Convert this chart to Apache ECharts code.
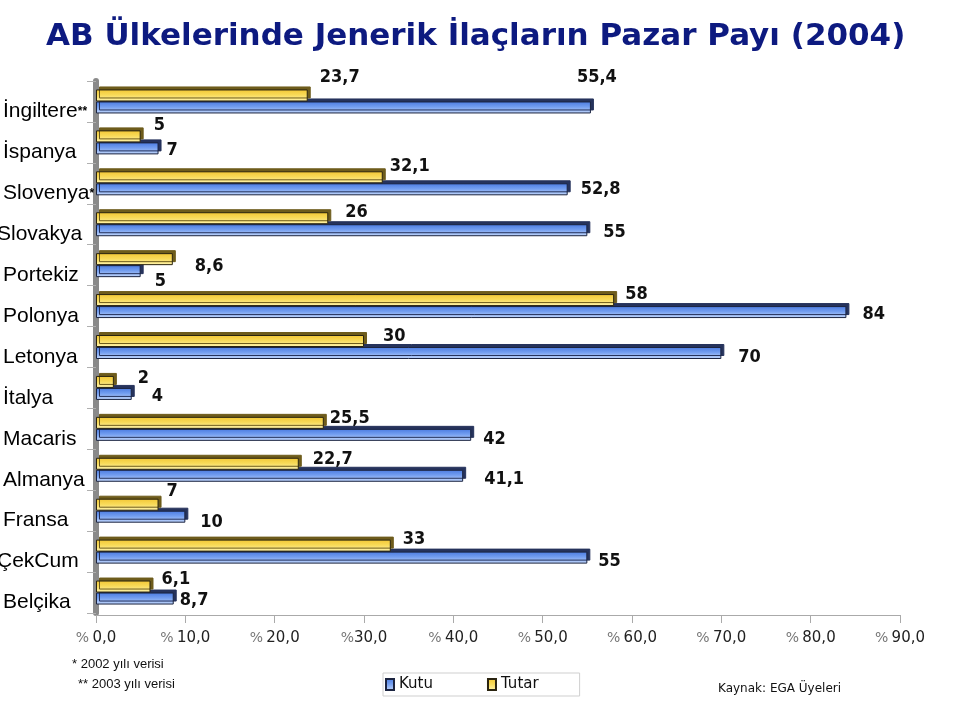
<!DOCTYPE html>
<html>
<head>
<meta charset="utf-8">
<script src="https://cdn.jsdelivr.net/npm/echarts@6/dist/echarts.min.js"></script>
<style>html,body{margin:0;padding:0;background:#fff;}#c{width:959px;height:718px;}</style>
</head>
<body>
<div id="c"></div>
<script>
// ---- data ----
const categories = ['İngiltere**', 'İspanya', 'Slovenya*', 'Slovakya', 'Portekiz', 'Polonya', 'Letonya', 'İtalya', 'Macaris', 'Almanya', 'Fransa', 'ÇekCum', 'Belçika'];
const kutu  = [55.4, 7, 52.8, 55, 5, 84, 70, 4, 42, 41.1, 10, 55, 8.7];
const tutar = [23.7, 5, 32.1, 26, 8.6, 58, 30, 2, 25.5, 22.7, 7, 33, 6.1];
const xTicks = [0, 10, 20, 30, 40, 50, 60, 70, 80, 90];

// ---- label placement tweaks (style config, not data) ----
const tutarBase = [8, -6];
const kutuBase  = [8, 3];
const tutarNudge = [[-1,-12],[0,-5],[-6,-5],[4,0],[9,13],[-2,0],[6,1],[11,2],[-7,1],[1,2],[-5,-7],[-1,0],[-2,-1]];
const kutuNudge  = [[-27,-33],[-5,-1],[0,-3],[3,-1],[1,7],[3,-1],[4,1],[7,-1],[-1,1],[8,1],[2,3],[-2,1],[-7,-1]];
const clippedLabels = ['Slovakya', 'ÇekCum'];

const fmt = v => String(v).replace('.', ',');

const blueGrad = new echarts.graphic.LinearGradient(0, 0, 0, 1, [
  {offset: 0, color: '#4a7ae0'}, {offset: 0.45, color: '#739ef0'}, {offset: 1, color: '#c4d8fb'}]);
const yellowGrad = new echarts.graphic.LinearGradient(0, 0, 0, 1, [
  {offset: 0, color: '#f2c634'}, {offset: 0.45, color: '#f8da58'}, {offset: 1, color: '#fff4b0'}]);

const labelBase = {
  show: true, position: 'right', distance: 5,
  fontFamily: 'DejaVu Sans Condensed, DejaVu Sans', fontWeight: 'bold', fontSize: 18, color: '#111'
};

function mkData(vals, base, nudge) {
  return vals.map((v, i) => ({ value: v, label: { offset: [base[0] + nudge[i][0], base[1] + nudge[i][1]] } }));
}

const chart = echarts.init(document.getElementById('c'));
chart.setOption({
  backgroundColor: '#fff',
  animation: false,
  title: {
    text: 'AB Ülkelerinde Jenerik İlaçların Pazar Payı (2004)',
    left: 46, top: 21, padding: 0,
    textStyle: { fontFamily: 'DejaVu Sans', fontWeight: 'bold', fontSize: 31, color: '#0d1a80' }
  },
  legend: {
    data: ['Kutu', 'Tutar'],
    left: 383, top: 673,
    orient: 'horizontal',
    borderColor: '#cfcfcf', borderWidth: 1,
    padding: [4, 41, 4, 2],
    itemWidth: 8, itemHeight: 11, itemGap: 54,
    icon: 'rect',
    textStyle: { fontFamily: 'DejaVu Sans', fontSize: 15, color: '#111' }
  },
  grid: { left: 96, right: 59, top: 81, bottom: 105, containLabel: false, outerBoundsMode: 'none' },
  xAxis: {
    type: 'value', min: 0, max: 90, interval: 10, offset: 2,
    splitLine: { show: false },
    axisLine: { show: true, lineStyle: { color: '#aaaaaa', width: 1 } },
    axisTick: { show: true, length: 8, lineStyle: { color: '#aaaaaa' } },
    axisLabel: {
      margin: 16,
      formatter: v => {
        const n = xTicks.indexOf(v) >= 0 ? v.toFixed(1).replace('.', ',') : '';
        return '{p|%}' + (v === 30 ? '' : ' ') + '{n|' + n + '}';
      },
      rich: {
        p: { fontFamily: 'DejaVu Sans', fontSize: 14, color: '#777' },
        n: { fontFamily: 'DejaVu Sans', fontSize: 15, color: '#222' }
      }
    }
  },
  yAxis: {
    type: 'category', inverse: true, data: categories,
    axisLine: { show: true, lineStyle: { color: '#8a8a8a', width: 6 } },
    axisTick: { show: true, length: 9, lineStyle: { color: '#b0b0b0' } },
    axisLabel: {
      align: 'left', margin: 101, padding: [20, 0, 0, 0],
      formatter: v => {
        const m = v.match(/^(.*?)(\*+)$/);
        const name = m ? m[1] : v;
        const key = clippedLabels.indexOf(name) >= 0 ? 'c' : 't';
        return '{' + key + '|' + name + '}' + (m ? '{s|' + m[2] + '}' : '');
      },
      rich: {
        t: { fontFamily: 'Liberation Sans, Arial', fontSize: 21, color: '#000', padding: [0, 0, 0, 8] },
        c: { fontFamily: 'Liberation Sans, Arial', fontSize: 21, color: '#000', padding: [0, 0, 0, 2] },
        s: { fontFamily: 'Liberation Sans, Arial', fontSize: 12, fontWeight: 'bold', color: '#000' }
      }
    }
  },
  series: [
    {
      name: 'Tutar', type: 'bar', barWidth: 12, barGap: '0%',
      data: mkData(tutar, tutarBase, tutarNudge),
      itemStyle: { color: yellowGrad, borderColor: '#2a2410', borderWidth: 1,
        shadowColor: '#6e5c1c', shadowBlur: 0, shadowOffsetX: 3, shadowOffsetY: -3 },
      label: Object.assign({}, labelBase, { formatter: p => fmt(p.value) }),
      z: 3
    },
    {
      name: 'Kutu', type: 'bar', barWidth: 12, barGap: '0%',
      data: mkData(kutu, kutuBase, kutuNudge),
      itemStyle: { color: blueGrad, borderColor: '#1b2440', borderWidth: 1,
        shadowColor: '#26335c', shadowBlur: 0, shadowOffsetX: 3, shadowOffsetY: -3 },
      label: Object.assign({}, labelBase, { formatter: p => fmt(p.value) }),
      z: 2
    }
  ],
  graphic: [
    { type: 'text', left: 72, top: 658, style: { text: '* 2002 yılı verisi', font: '13px "Liberation Sans", Arial', fill: '#111' } },
    { type: 'text', left: 78, top: 678, style: { text: '** 2003 yılı verisi', font: '13px "Liberation Sans", Arial', fill: '#111' } },
    { type: 'text', left: 718, top: 683, style: { text: 'Kaynak: EGA Üyeleri', font: '12px "DejaVu Sans"', fill: '#111' } }
  ]
});
</script>
</body>
</html>
